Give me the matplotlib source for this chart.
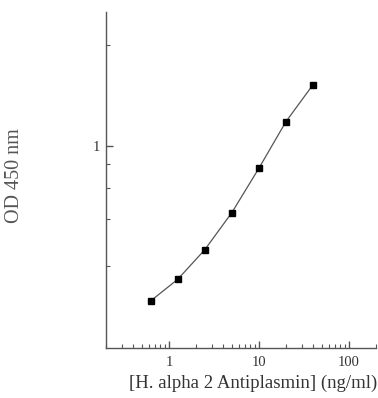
import matplotlib
matplotlib.use("Agg")
import matplotlib.pyplot as plt
from matplotlib.ticker import FixedLocator, NullFormatter, FixedFormatter

# standard curve
conc = [0.625, 1.25, 2.5, 5, 10, 20, 40]
od = [0.345, 0.400, 0.490, 0.632, 0.857, 1.18, 1.52]

x_major = [1, 10, 100]
x_labels = ["1", "10", "100"]
y_major = [1]
y_minor = [0.44, 0.605, 0.75, 0.884, 2]

plt.rcParams['font.family'] = ['Liberation Serif', 'DejaVu Serif']

fig = plt.figure(figsize=(3.78, 3.98), dpi=100)
ax = fig.add_axes([106 / 378, 50 / 398, 270 / 378, 336 / 398])

axis_col = '#555555'
ax.plot(conc, od, color='#555555', lw=0.9, zorder=2)
ax.plot(conc, od, ls='none', marker='s', ms=4.5, color='black', zorder=3)

ax.set_xscale('log')
ax.set_yscale('log')
ax.set_xlim(0.2, 200)
ax.set_ylim(0.25, 2.5)

ax.xaxis.set_major_locator(FixedLocator(x_major))
ax.xaxis.set_major_formatter(FixedFormatter(x_labels))
ax.yaxis.set_major_locator(FixedLocator(y_major))
ax.yaxis.set_major_formatter(FixedFormatter(["1"]))
ax.yaxis.set_minor_locator(FixedLocator(y_minor))
ax.yaxis.set_minor_formatter(NullFormatter())
ax.xaxis.set_minor_formatter(NullFormatter())

for s in ['top', 'right']:
    ax.spines[s].set_visible(False)
for s in ['left', 'bottom']:
    ax.spines[s].set_color(axis_col)
    ax.spines[s].set_linewidth(1.0)

ax.tick_params(which='both', direction='in', colors=axis_col, labelcolor='#333333', labelsize=10.5)
ax.tick_params(which='major', length=5, width=1.0)
ax.tick_params(which='minor', length=3, width=0.8)
ax.tick_params(axis='x', pad=6)
ax.tick_params(axis='y', pad=4)

fig.text(253 / 378, 1 - 383 / 398, '[H. alpha 2 Antiplasmin] (ng/ml)', fontsize=13.5,
         color='#333333', ha='center', va='center')
fig.text(15 / 378, 1 - 176 / 398, 'OD 450 nm', fontsize=14.5, color='#555555',
         rotation=90, ha='center', va='center')

fig.savefig('out.png', dpi=100)
